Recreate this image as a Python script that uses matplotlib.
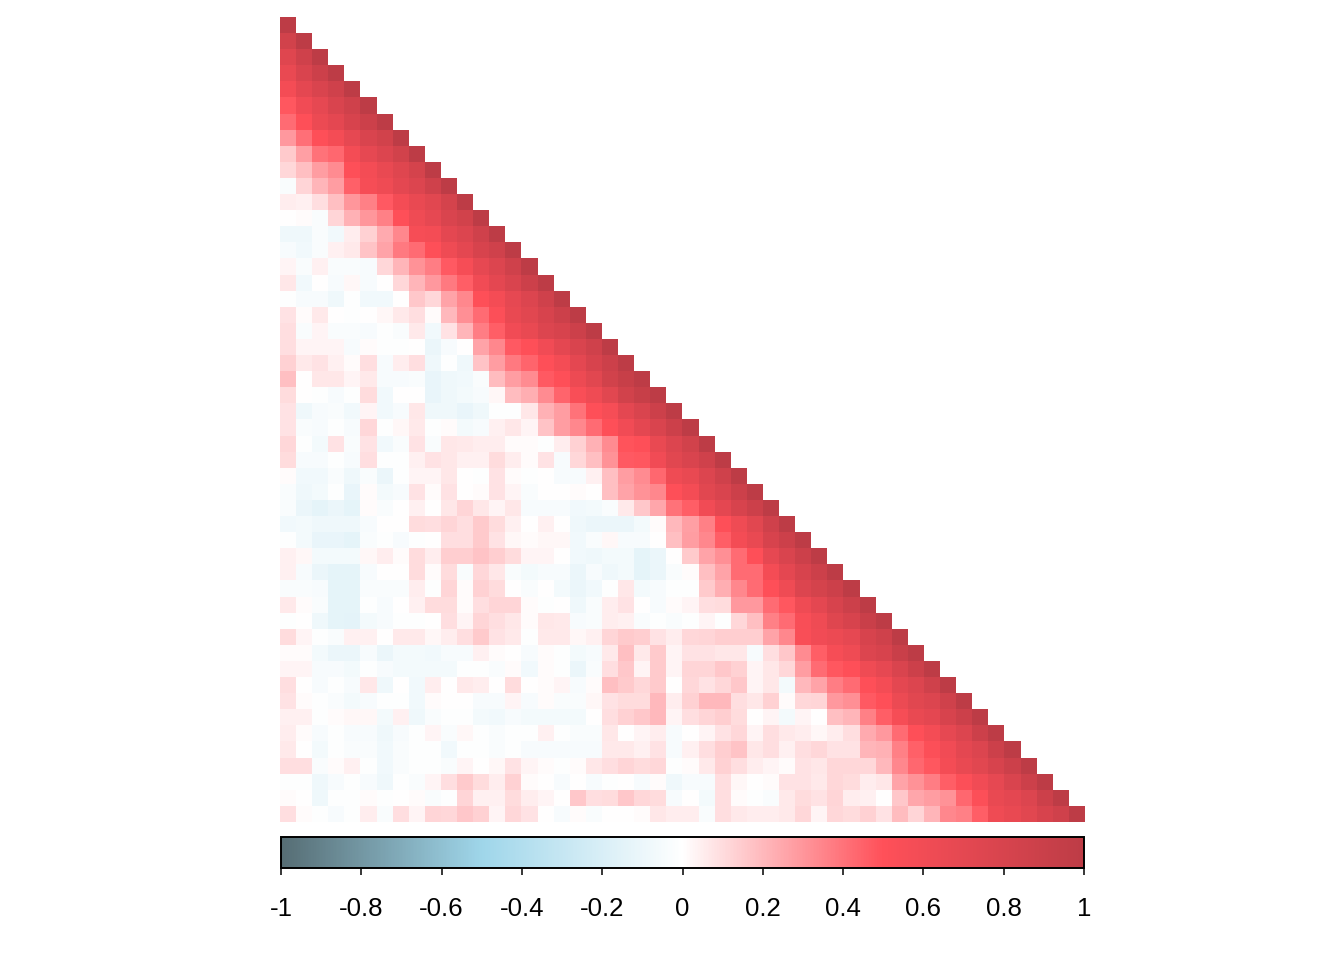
import numpy as np
from matplotlib import pyplot as plt
from matplotlib.colors import LinearSegmentedColormap

plt.rcParams['font.family'] = ['Liberation Sans', 'DejaVu Sans']

# correlation values x 100, one list per row of the lower triangle
r01 = [100]
r02 = [84, 100]
r03 = [74, 86, 100]
r04 = [66, 78, 88, 100]
r05 = [58, 70, 78, 86, 100]
r06 = [48, 60, 68, 78, 86, 100]
r07 = [42, 50, 64, 70, 80, 88, 100]
r08 = [29, 41, 50, 58, 68, 78, 84, 100]
r09 = [15, 27, 40, 43, 58, 68, 76, 84, 100]
r10 = [11, 18, 28, 33, 50, 58, 66, 74, 82, 100]
r11 = [-3, 12, 21, 28, 45, 56, 62, 70, 76, 86, 100]
r12 = [5, 4, 9, 18, 30, 36, 47, 58, 66, 72, 82, 100]
r13 = [0, 1, -3, 12, 22, 30, 36, 50, 62, 68, 78, 84, 100]
r14 = [-8, -8, -3, -7, 5, 13, 24, 34, 56, 58, 70, 76, 86, 100]
r15 = [-4, -7, -3, 4, 6, 17, 26, 38, 42, 50, 62, 70, 80, 86, 100]
r16 = [3, -3, 4, -3, -3, -4, 11, 21, 31, 37, 47, 56, 68, 76, 86, 100]
r17 = [7, -7, 0, -4, 2, -4, 0, 11, 21, 29, 38, 46, 60, 70, 78, 88, 100]
r18 = [-1, -4, -4, -8, -1, -7, -7, 0, 16, 11, 26, 34, 50, 58, 68, 76, 86, 100]
r19 = [8, 1, 6, 0, -1, 0, 2, 6, 9, 1, 20, 32, 42, 52, 66, 72, 80, 88, 100]
r20 = [9, -3, 3, -3, -3, -4, -1, -3, 6, -7, 8, 21, 37, 46, 60, 66, 76, 80, 88, 100]
r21 = [9, 3, 3, 3, -4, 1, -1, -1, 0, -10, -4, 0, 26, 34, 47, 50, 60, 70, 78, 86, 100]
r22 = [13, 6, 8, 4, 1, 9, -4, 5, 9, -8, -1, -8, 17, 28, 38, 44, 50, 58, 70, 80, 88, 100]
r23 = [18, 0, 7, 7, 3, 6, -4, -4, -3, -11, -8, -7, -3, 19, 28, 33, 47, 50, 63, 72, 84, 92, 100]
r24 = [10, 0, -1, -4, -1, 10, -7, 0, 0, -11, -8, -6, -4, 2, 19, 23, 33, 44, 54, 62, 72, 84, 92, 100]
r25 = [8, -8, -4, -3, -7, 3, -7, -4, 7, -8, -8, -11, -8, -1, -1, 7, 22, 28, 40, 50, 56, 70, 78, 88, 100]
r26 = [8, -3, -4, -1, -4, 11, -1, 2, 6, -1, 1, -6, -4, 4, 7, 3, 17, 28, 34, 42, 50, 60, 70, 78, 88, 100]
r27 = [11, -1, -6, 8, -3, 8, -7, -3, 8, -3, 7, 6, 5, 5, 1, 1, -1, 5, 13, 22, 33, 49, 50, 66, 76, 84, 100]
r28 = [10, -4, -4, -1, -4, 9, -1, -1, 4, 8, 7, 4, 4, 10, 5, 1, 8, -4, 11, 18, 31, 47, 48, 60, 72, 78, 86, 100]
r29 = [1, -7, -7, -3, -8, -3, -10, -1, 3, 3, 7, 0, -1, 8, 1, -1, 0, -4, -4, 4, 18, 28, 33, 43, 62, 66, 76, 86, 100]
r30 = [-3, -8, -6, -1, -11, 1, -6, -4, 8, 1, 8, 0, 1, 8, 3, -3, 0, 0, 1, 0, 18, 26, 31, 34, 50, 58, 72, 78, 88, 100]
r31 = [-3, -10, -13, -10, -13, 1, -3, 0, 4, 0, 7, 12, 7, 3, 7, -4, -4, -4, -7, -6, -3, 6, 16, 25, 40, 46, 60, 70, 80, 88, 100]
r32 = [-7, -6, -8, -8, -8, -4, 0, 0, 10, 9, 12, 9, 15, 10, 4, 0, 4, 0, -8, -10, -10, -10, -6, 1, 20, 27, 36, 50, 62, 72, 86, 100]
r33 = [-1, -6, -11, -11, -13, -3, -1, -4, -1, 0, 9, 9, 15, 8, 2, 1, 2, 2, -7, -3, 2, -4, -4, 0, 18, 28, 34, 46, 58, 66, 80, 88, 100]
r34 = [4, 2, -6, -6, -6, 2, 5, 1, 10, 5, 14, 14, 17, 14, 10, 3, 3, 0, -7, -8, -6, -6, -13, -10, 0, 15, 26, 32, 42, 50, 68, 78, 88, 100]
r35 = [4, -4, -10, -13, -13, -4, 0, 0, 10, 1, 10, -3, 11, 7, -3, -6, -4, -4, -10, -4, -8, -6, -13, -10, -3, 1, 18, 26, 42, 42, 58, 70, 80, 88, 100]
r36 = [-3, -3, -4, -13, -13, -3, -3, -3, 5, -1, 12, 1, 13, 10, 0, -3, 0, -6, -10, -7, -1, 7, -6, -4, -1, -1, 15, 23, 34, 42, 50, 62, 76, 82, 88, 100]
r37 = [6, 1, -3, -13, -13, -1, -4, 0, 4, 10, 10, 1, 9, 12, 12, 1, -1, 0, -8, -3, 5, 8, 0, -4, 1, 3, 9, 10, 29, 29, 42, 48, 62, 70, 80, 88, 100]
r38 = [-1, 0, -8, -13, -14, -6, -4, -1, -1, 0, 9, 3, 12, 9, 7, 1, 7, 6, -4, -3, 5, 4, -3, -1, -3, -1, 3, -1, 11, 18, 36, 42, 55, 62, 74, 80, 90, 100]
r39 = [10, 3, -1, -3, 4, 4, 0, 6, 6, 2, 5, 9, 15, 8, 6, -1, 6, 6, 2, 4, 12, 15, 14, 8, 5, 11, 12, 14, 14, 14, 26, 34, 54, 60, 64, 68, 80, 86, 100]
r40 = [1, 1, -6, -10, -10, -4, -10, -6, -6, -7, -4, -4, 4, 1, 0, -4, 1, -1, -6, -4, 6, 18, 6, 15, 3, 8, 8, 7, 7, -4, 9, 16, 33, 46, 56, 62, 76, 80, 90, 100]
r41 = [3, 3, -4, -4, -6, -1, -4, -6, -6, -6, -6, -1, -1, -3, 1, -7, 1, -1, -10, -3, 9, 16, 3, 15, 3, 12, 12, 16, 13, 3, 7, 11, 28, 42, 48, 50, 62, 68, 78, 88, 100]
r42 = [9, 0, -4, -1, -4, 7, -8, 0, -7, 5, 0, 6, 5, 0, 10, 0, 1, 3, -4, 1, 18, 15, 11, 15, 0, 11, 8, 11, 16, 3, 7, -6, 20, 26, 37, 42, 50, 58, 70, 76, 86, 100]
r43 = [8, 1, -1, -3, -6, -4, -1, -1, -7, 1, 0, 0, -4, -4, 3, -4, 1, -3, -3, 2, 8, 10, 10, 20, 5, 13, 20, 20, 9, 7, 13, 1, 11, 12, 29, 32, 47, 50, 64, 72, 76, 86, 100]
r44 = [4, 4, -1, 1, 2, 2, -6, 4, -8, -3, -1, -1, -6, -7, -4, -6, -6, -6, -6, 0, 9, 13, 16, 20, 3, 9, 12, 14, 10, 0, 3, -6, 3, 0, 18, 21, 36, 46, 56, 66, 70, 80, 88, 100]
r45 = [5, 1, -4, -1, -4, -4, -8, -4, -1, 3, -3, 2, -1, -3, -1, -1, 4, -1, -3, -3, 7, 0, 3, 5, -4, 0, 3, 8, 11, 3, 9, 6, 5, 2, 5, 9, 24, 29, 42, 50, 58, 68, 76, 88, 100]
r46 = [6, 0, -6, -1, -3, -3, -7, -3, -1, -1, -7, -1, -1, -3, -1, -4, -4, -4, -4, -4, 6, 6, 4, 8, -4, 4, 9, 14, 17, 7, 9, 4, 9, 11, 8, 8, 21, 22, 36, 45, 52, 60, 70, 76, 88, 100]
r47 = [9, 9, -3, 1, 4, -1, -7, -3, -1, -1, -3, 3, 0, 2, 8, 3, 1, -1, 1, 7, 9, 12, 10, 11, -1, 1, 6, 13, 9, 5, 3, 1, 8, 7, 11, 11, 11, 20, 34, 43, 48, 58, 66, 72, 80, 88, 100]
r48 = [-1, -1, -8, -4, -1, -4, -8, -1, -3, 3, 9, 15, 10, 5, 13, 1, 0, -4, 0, -4, -1, 0, -4, 1, -8, -4, -4, 9, 2, 0, 1, 8, 8, 6, 11, 10, 5, 7, 26, 31, 37, 46, 52, 60, 68, 78, 88, 100]
r49 = [1, 0, -8, -1, -1, 1, -1, 0, 1, -3, -1, 12, 4, 4, 10, 5, 3, 0, 16, 9, 10, 16, 11, 10, -4, 0, -6, 9, 1, -1, -3, 6, 10, 8, 12, 5, 4, 0, 16, 25, 28, 31, 43, 52, 66, 70, 76, 88, 100]
r50 = [9, 1, -1, -4, -1, 5, -3, 9, 3, 12, 11, 16, 13, 3, 11, 8, 0, -4, 1, -3, 0, 0, 1, 7, 5, 5, -3, 9, 6, 5, 5, 6, 11, 3, 11, 10, 13, 8, 19, 12, 21, 34, 36, 46, 62, 66, 72, 80, 86, 100]

rows = [r01, r02, r03, r04, r05, r06, r07, r08, r09, r10,
        r11, r12, r13, r14, r15, r16, r17, r18, r19, r20,
        r21, r22, r23, r24, r25, r26, r27, r28, r29, r30,
        r31, r32, r33, r34, r35, r36, r37, r38, r39, r40,
        r41, r42, r43, r44, r45, r46, r47, r48, r49, r50]

tick_values = [-1, -0.8, -0.6, -0.4, -0.2, 0, 0.2, 0.4, 0.6, 0.8, 1]
tick_labels = ['-1', '-0.8', '-0.6', '-0.4', '-0.2', '0', '0.2', '0.4', '0.6', '0.8', '1']

n = len(rows)
grid = np.full((n, n), np.nan)
for i, row in enumerate(rows):
    grid[i, :len(row)] = np.array(row) / 100

cmap = LinearSegmentedColormap.from_list(
    'corr',
    [(0.0, '#566d74'), (0.25, '#9fd6ea'), (0.5, '#ffffff'), (0.75, '#ff5059'), (1.0, '#bd3c46')],
    N=512)
cmap.set_bad('white', 0)

W, H = 1344, 960
fig = plt.figure(figsize=(W / 100, H / 100), dpi=100)

ax = fig.add_axes([280 / W, 1 - 822 / H, 805 / W, 805 / H])
im = ax.imshow(grid, cmap=cmap, vmin=-1, vmax=1, aspect='auto', interpolation='nearest')
ax.axis('off')

cax = fig.add_axes([281 / W, 1 - 867.5 / H, 803 / W, 30.5 / H])
cb = fig.colorbar(im, cax=cax, orientation='horizontal')
cb.set_ticks(tick_values)
cb.set_ticklabels(tick_labels)
cb.outline.set_linewidth(1.4)
cb.outline.set_edgecolor('black')
cax.tick_params(axis='x', length=5, width=1.1, pad=16, labelsize=18.6, labelcolor='black')

plt.savefig('out.png', dpi=100)
